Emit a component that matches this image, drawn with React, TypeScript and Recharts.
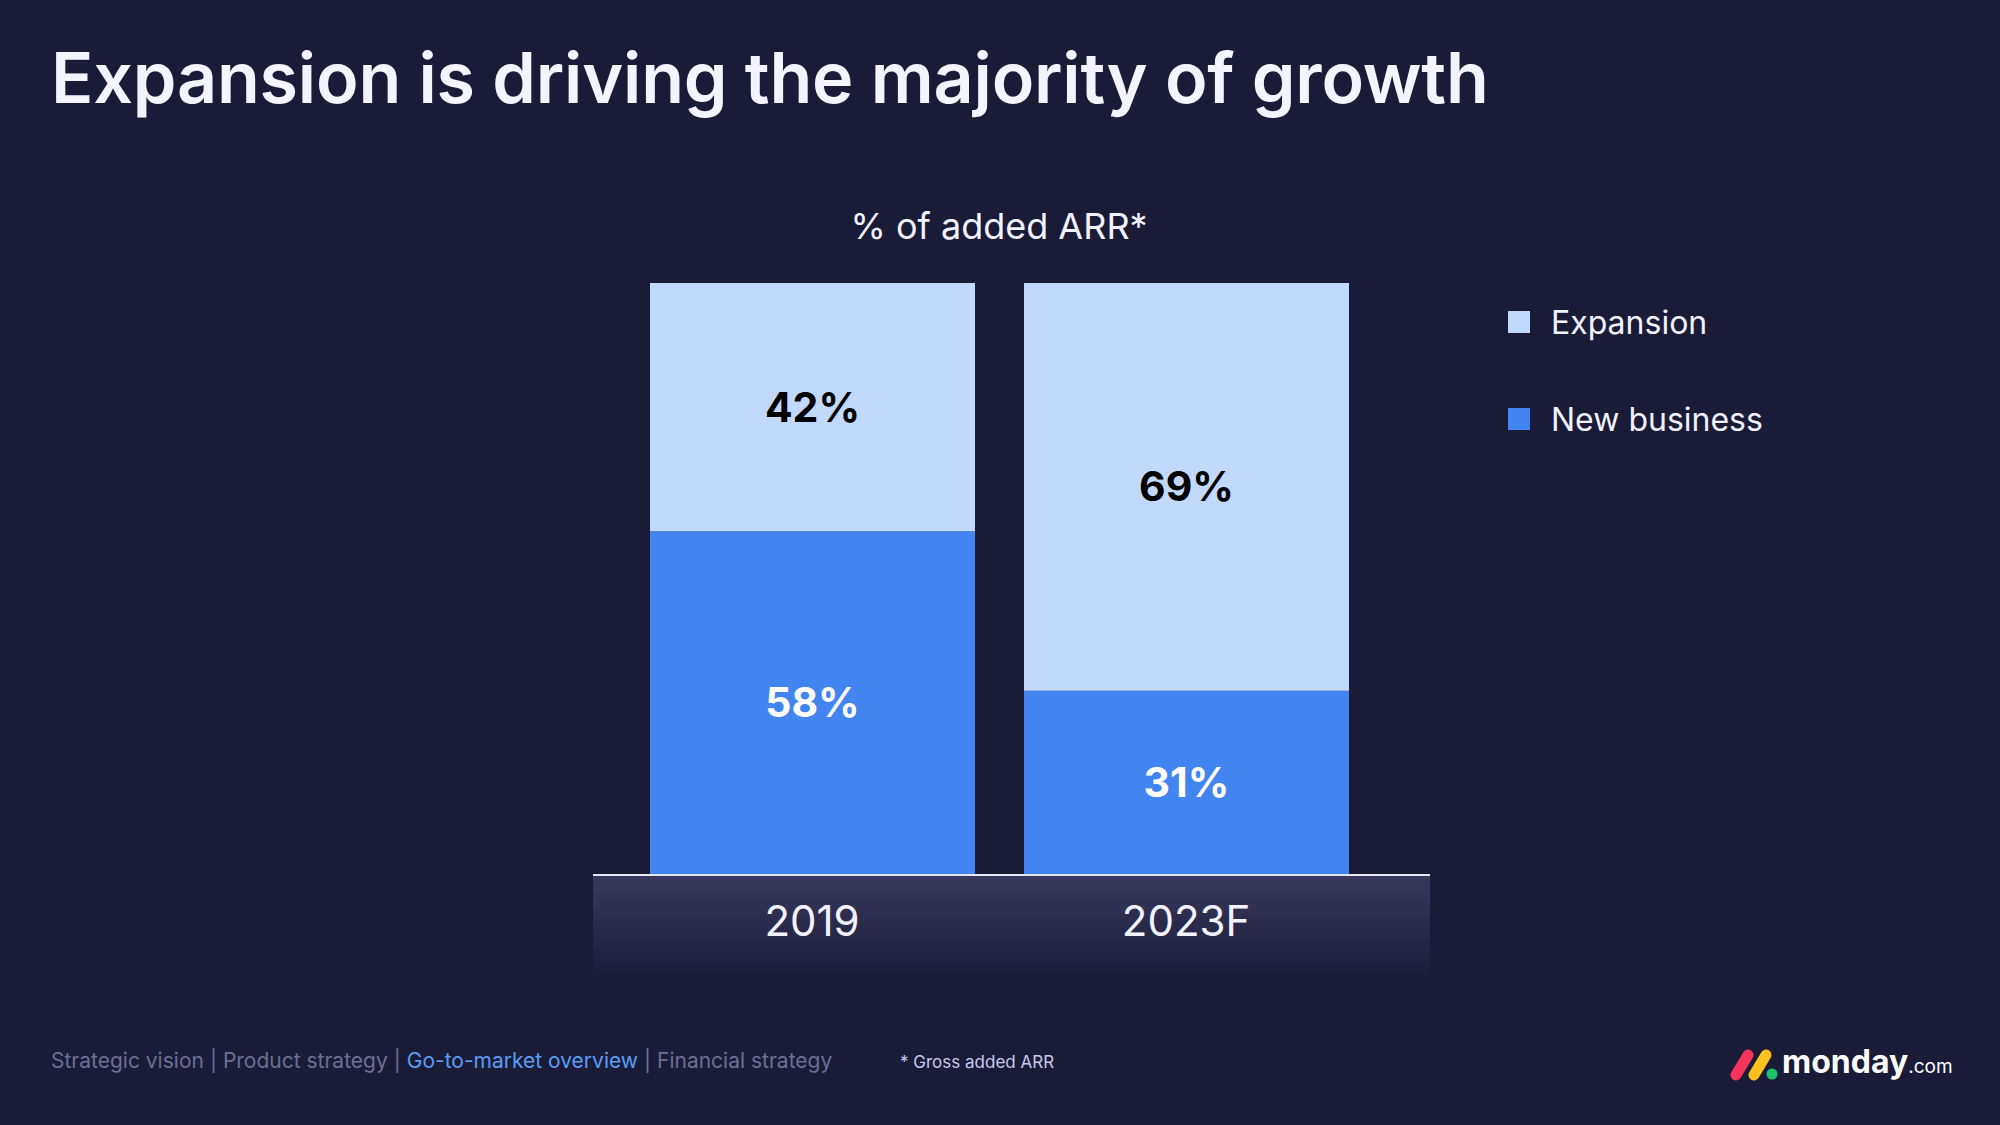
import { BarChart, Bar, XAxis, YAxis, LabelList } from 'recharts';

const categories = ['2019', '2023F'];
const newBusiness = [58, 31];
const expansion = [42, 69];
const seriesNames = ['Expansion', 'New business'];
const navItems = ['Strategic vision', 'Product strategy', 'Go-to-market overview', 'Financial strategy'];

const BG = '#1a1c37';
const LIGHT = '#c1d9fd';
const BLUE = '#4285f0';

const chartData = categories.map((year, i) => ({
  year,
  newBusiness: newBusiness[i],
  expansion: expansion[i],
}));

const YearTick = ({ x, y, payload }: any) => (
  <text x={x} y={y} dy={54} textAnchor="middle" fill="#f2f2ff" fontSize={42} fontFamily="Inter">
    {payload.value}
  </text>
);

const App = () => {
  return (
    <div style={{ position: 'absolute', left: 0, top: 0, width: 2000, height: 1125, background: BG, overflow: 'hidden', fontFamily: 'Inter' }}>
      <div style={{ position: 'absolute', left: 51, top: 35, fontSize: 70, fontWeight: 600, color: '#f4f4ff', letterSpacing: -0.2, whiteSpace: 'nowrap' }}>
        Expansion is driving the majority of growth
      </div>

      <div style={{ position: 'absolute', left: 0, width: 1998, top: 204, textAlign: 'center', fontSize: 36, color: '#f2f2ff' }}>
        % of added ARR*
      </div>

      {/* axis band under the bars */}
      <div style={{
        position: 'absolute', left: 593, top: 874, width: 837, height: 104,
        background: 'linear-gradient(to bottom, #39395f 0%, #2a2b4c 45%, #1a1c37 100%)',
        borderTop: '2px solid #e6e6f2',
      }} />

      <div style={{ position: 'absolute', left: 0, top: 0 }}>
        <BarChart width={2000} height={1125} data={chartData} margin={{ top: 283, right: 627, bottom: 151, left: 625 }} barSize={325}>
          <YAxis hide domain={[0, 100]} />
          <XAxis dataKey="year" axisLine={false} tickLine={false} tick={<YearTick />} height={100} />
          <Bar dataKey="newBusiness" stackId="a" fill={BLUE} isAnimationActive={false} name="New business">
            <LabelList dataKey="newBusiness" position="center" fill="#ffffff" fontSize={41} fontWeight={700} fontFamily="Inter" formatter={(v: any) => `${v}%`} />
          </Bar>
          <Bar dataKey="expansion" stackId="a" fill={LIGHT} isAnimationActive={false} name="Expansion">
            <LabelList dataKey="expansion" position="center" fill="#000000" fontSize={41} fontWeight={700} fontFamily="Inter" formatter={(v: any) => `${v}%`} />
          </Bar>
        </BarChart>
      </div>

      <div style={{ position: 'absolute', left: 1508, top: 302, fontSize: 32, color: '#f2f2ff' }}>
        {[LIGHT, BLUE].map((c, i) => (
          <div key={i} style={{ display: 'flex', alignItems: 'center', height: 40, marginBottom: i === 0 ? 57 : 0 }}>
            <span style={{ width: 22, height: 22, background: c, display: 'inline-block', marginRight: 21 }} />
            <span>{seriesNames[i]}</span>
          </div>
        ))}
      </div>

      <div style={{ position: 'absolute', left: 51, top: 1048, fontSize: 21, color: '#6c7094', whiteSpace: 'nowrap' }}>
        {navItems.map((item, i) => (
          <span key={item}>
            {i > 0 && <span style={{ margin: '0 6px' }}>|</span>}
            <span style={{ color: i === 2 ? '#5b9cf6' : '#6c7094' }}>{item}</span>
          </span>
        ))}
      </div>
      <div style={{ position: 'absolute', left: 900, top: 1052, fontSize: 17, color: '#c9c9ea', whiteSpace: 'nowrap' }}>
        * Gross added ARR
      </div>

      <div style={{ position: 'absolute', left: 1728, top: 1042, display: 'flex', alignItems: 'flex-end' }}>
        <svg width={52} height={40}>
          <line x1={8} y1={33} x2={20} y2={13} stroke="#f7355a" strokeWidth={11} strokeLinecap="round" />
          <line x1={26} y1={33} x2={38} y2={13} stroke="#fcc11e" strokeWidth={11} strokeLinecap="round" />
          <circle cx={44} cy={32} r={5.5} fill="#1fc26f" />
        </svg>
        <span style={{ fontSize: 32, fontWeight: 700, color: '#ffffff', lineHeight: '40px', marginLeft: 2, fontFamily: 'Inter' }}>monday</span>
        <span style={{ fontSize: 19, color: '#ffffff', lineHeight: '30px' }}>.com</span>
      </div>
    </div>
  );
};

export default App;
